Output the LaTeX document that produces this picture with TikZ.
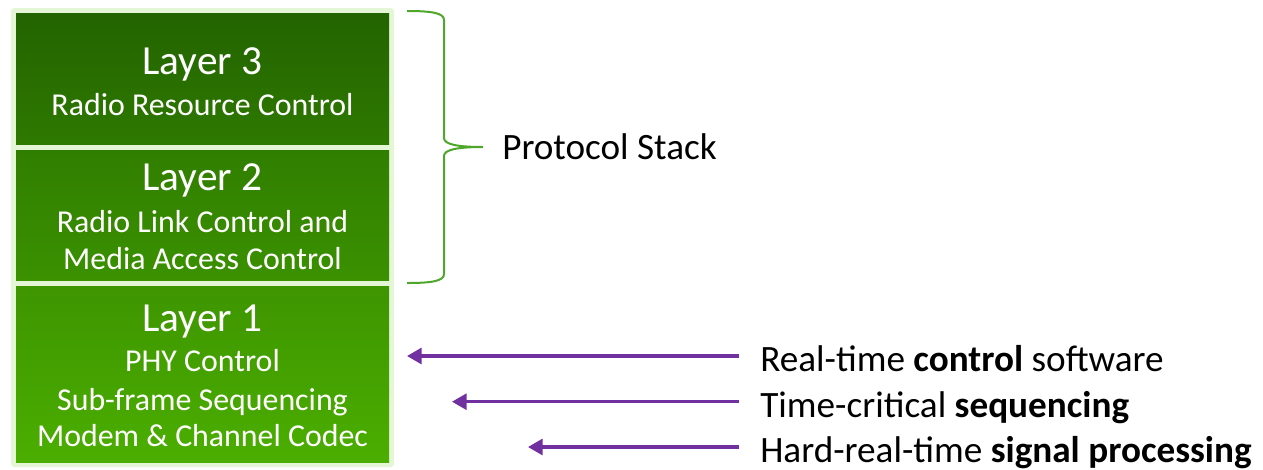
\documentclass[tikz,border=0pt]{standalone}
\usepackage{fontspec}
\setmainfont{Carlito}
\usetikzlibrary{arrows.meta}
\definecolor{framegreen}{HTML}{E4F6D6}
\definecolor{bracegreen}{HTML}{4EA62A}
\definecolor{arrowpurple}{HTML}{7030A0}
\definecolor{gA}{HTML}{236300}
\definecolor{gB}{HTML}{2E7900}
\definecolor{gC}{HTML}{307E00}
\definecolor{gD}{HTML}{3B9100}
\definecolor{gE}{HTML}{3E9500}
\definecolor{gF}{HTML}{4BAE00}
\tikzset{
  layerbox/.style={draw=none, minimum width=279.75pt, inner sep=0pt},
  titletext/.style={text=white, font=\fontsize{31}{36}\selectfont, inner sep=0pt, anchor=base},
  subtext/.style={text=white, font=\fontsize{23.9}{28}\selectfont, inner sep=0pt, anchor=base},
  sidetext/.style={text=black, font=\fontsize{27.9}{33}\selectfont, inner sep=0pt, anchor=base west},
  pointer/.style={draw=arrowpurple, line width=2.3pt, -{Triangle[length=11pt, width=12pt]},
    shorten <=15.75pt},
  bracestroke/.style={draw=bracegreen, line width=1.5pt}
}
\begin{document}
\begin{tikzpicture}[x=0.75pt, y=-0.75pt]
  \useasboundingbox (0,0) rectangle (1263,469);
  % light frame behind the stack
  \fill[framegreen, rounded corners=2.5pt] (11,8) rectangle (394,467);

  % the three layers
  \node[layerbox, minimum height=98.25pt, top color=gA, bottom color=gB] (l3) at (202.5,78.5) {};
  \node[layerbox, minimum height=97.5pt, top color=gC, bottom color=gD] (l2) at (202.5,215) {};
  \node[layerbox, minimum height=132pt, top color=gE, bottom color=gF] (l1) at (202.5,374) {};

  \node[titletext] (l3t) at (202.5,74) {Layer 3};
  \node[subtext] (l3a) at (202.5,115.7) {Radio Resource Control};

  \node[titletext] (l2t) at (202.5,190.7) {Layer 2};
  \node[subtext] (l2a) at (202.5,232) {Radio Link Control and};
  \node[subtext] (l2b) at (202.5,269) {Media Access Control};

  \node[titletext] (l1t) at (202.5,331.7) {Layer 1};
  \node[subtext] (l1a) at (202.5,371.7) {PHY Control};
  \node[subtext] (l1b) at (202.5,410) {Sub-frame Sequencing};
  \node[subtext] (l1c) at (202.5,446.7) {Modem \& Channel Codec};

  % brace over layers 3 and 2
  \draw[bracestroke] (407,11) .. controls (432,11) and (444,13) .. (444,20)
    -- (444,138) .. controls (444,144) and (456,147) .. (483,147)
    .. controls (456,147) and (444,150) .. (444,156)
    -- (444,274) .. controls (444,281) and (432,283) .. (407,283);
  \node[anchor=west, inner sep=0pt, font=\fontsize{27.9}{33}\selectfont] (ps) at (502,147) {Protocol Stack};

  % software classes pointing into layer 1
  \node[sidetext] (r1) at (760,371.7) {Real-time \textbf{control} software};
  \node[sidetext] (r2) at (760,417) {Time-critical \textbf{sequencing}};
  \node[sidetext] (r3) at (760,462.5) {Hard-real-time \textbf{signal processing}};
  \coordinate (t1) at (407,356);
  \coordinate (t2) at (452,401.7);
  \coordinate (t3) at (528,447);
  \draw[pointer] (t1 -| r1.west) -- (t1);
  \draw[pointer] (t2 -| r2.west) -- (t2);
  \draw[pointer] (t3 -| r3.west) -- (t3);
\end{tikzpicture}
\end{document}
